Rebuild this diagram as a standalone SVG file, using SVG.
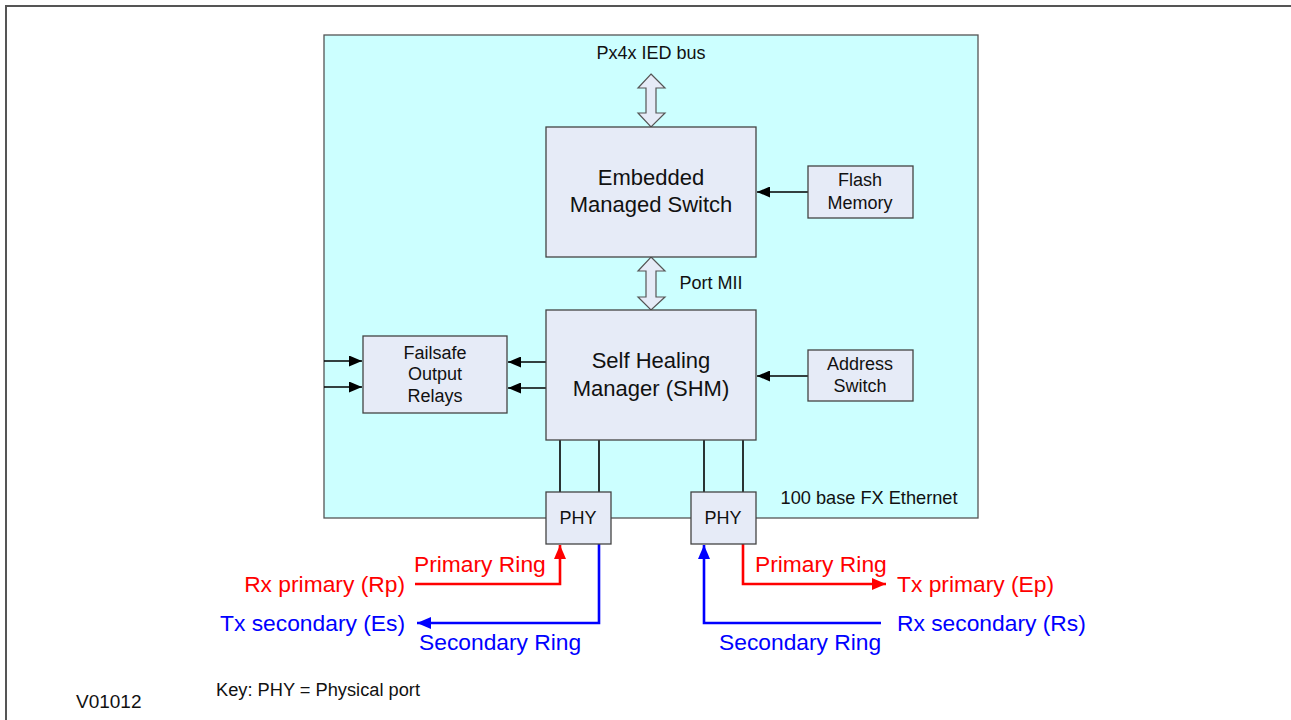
<svg xmlns="http://www.w3.org/2000/svg" width="1291" height="720" viewBox="0 0 1291 720">
<defs>
<style>
.box{fill:#e6ebf7;stroke:#444;stroke-width:1.3}
.t{font-family:"Liberation Sans",Arial,sans-serif;fill:#111;text-anchor:middle}
.k{stroke:#000;stroke-width:1.6;fill:none}
.r{stroke:#ff0000;stroke-width:2.6;fill:none}
.b{stroke:#0000ff;stroke-width:2.6;fill:none}
.red{font-family:"Liberation Sans",Arial,sans-serif;fill:#ff0000;font-size:22.8px}
.blue{font-family:"Liberation Sans",Arial,sans-serif;fill:#0000ff;font-size:22.8px}
.dbl{fill:#e6ebf7;stroke:#555;stroke-width:1.2}
</style>
<marker id="ak" viewBox="0 0 13 11" refX="13" refY="5.5" markerWidth="13" markerHeight="11" markerUnits="userSpaceOnUse" orient="auto"><path d="M0,0 L13,5.5 L0,11 Z" fill="#000"/></marker>
<marker id="ar" viewBox="0 0 14 12" refX="14" refY="6" markerWidth="14" markerHeight="12" markerUnits="userSpaceOnUse" orient="auto"><path d="M0,0 L14,6 L0,12 Z" fill="#ff0000"/></marker>
<marker id="ab" viewBox="0 0 14 12" refX="14" refY="6" markerWidth="14" markerHeight="12" markerUnits="userSpaceOnUse" orient="auto"><path d="M0,0 L14,6 L0,12 Z" fill="#0000ff"/></marker>
</defs>
<rect x="6" y="6" width="1300" height="730" fill="#fff" stroke="#555" stroke-width="2"/>
<g id="module">
<rect x="324" y="35" width="654" height="483" fill="#ccffff" stroke="#555" stroke-width="1.3"/>
<text class="t" x="651" y="59" font-size="18">Px4x IED bus</text>
<text class="t" x="869" y="504" font-size="18.2">100 base FX Ethernet</text>
</g>
<g id="connectors">
<path class="dbl" d="M651,74 L665,88 L656,88 L656,113 L665,113 L651,127 L638,113 L646,113 L646,88 L638,88 Z"/>
<path class="dbl" d="M651,257 L665,271 L656,271 L656,297 L665,297 L651,310 L638,297 L646,297 L646,271 L638,271 Z"/>
<text class="t" x="711" y="289" font-size="18">Port MII</text>
<line class="k" x1="808" y1="192" x2="757" y2="192" marker-end="url(#ak)"/>
<line class="k" x1="808" y1="376" x2="757" y2="376" marker-end="url(#ak)"/>
<line class="k" x1="546" y1="362" x2="508" y2="362" marker-end="url(#ak)"/>
<line class="k" x1="546" y1="388" x2="508" y2="388" marker-end="url(#ak)"/>
<line class="k" x1="324" y1="361" x2="362" y2="361" marker-end="url(#ak)"/>
<line class="k" x1="324" y1="387" x2="362" y2="387" marker-end="url(#ak)"/>
<line class="k" x1="560" y1="440" x2="560" y2="492"/>
<line class="k" x1="599" y1="440" x2="599" y2="492"/>
<line class="k" x1="704" y1="440" x2="704" y2="492"/>
<line class="k" x1="743" y1="440" x2="743" y2="492"/>
<polyline class="r" points="415,584 560,584 560,545" marker-end="url(#ar)"/>
<polyline class="b" points="599,544 599,623 417,623" marker-end="url(#ab)"/>
<polyline class="b" points="881,623 704,623 704,545" marker-end="url(#ab)"/>
<polyline class="r" points="743,544 743,584 886,584" marker-end="url(#ar)"/>
</g>
<g id="switch">
<rect class="box" x="546" y="127" width="210" height="130"/>
<text class="t" x="651" y="185" font-size="22">Embedded</text>
<text class="t" x="651" y="212" font-size="22">Managed Switch</text>
</g>
<g id="flash">
<rect class="box" x="808" y="166" width="105" height="52"/>
<text class="t" x="860" y="186" font-size="18">Flash</text>
<text class="t" x="860" y="209" font-size="18">Memory</text>
</g>
<g id="shm">
<rect class="box" x="546" y="310" width="210" height="130"/>
<text class="t" x="651" y="368" font-size="22">Self Healing</text>
<text class="t" x="651" y="396" font-size="22">Manager (SHM)</text>
</g>
<g id="address">
<rect class="box" x="808" y="350" width="105" height="51"/>
<text class="t" x="860" y="370" font-size="18">Address</text>
<text class="t" x="860" y="392" font-size="18">Switch</text>
</g>
<g id="failsafe">
<rect class="box" x="363" y="336" width="144" height="77"/>
<text class="t" x="435" y="359" font-size="18">Failsafe</text>
<text class="t" x="435" y="380" font-size="18">Output</text>
<text class="t" x="435" y="402" font-size="18">Relays</text>
</g>
<g id="phy1">
<rect class="box" x="546" y="492" width="65" height="52"/>
<text class="t" x="578" y="524" font-size="18">PHY</text>
</g>
<g id="phy2">
<rect class="box" x="691" y="492" width="65" height="52"/>
<text class="t" x="723" y="524" font-size="18">PHY</text>
</g>
<g id="labels">
<text class="red" x="405" y="592" text-anchor="end">Rx primary (Rp)</text>
<text class="red" x="414" y="572">Primary Ring</text>
<text class="blue" x="405" y="631" text-anchor="end">Tx secondary (Es)</text>
<text class="blue" x="419" y="650">Secondary Ring</text>
<text class="red" x="897" y="592">Tx primary (Ep)</text>
<text class="red" x="755" y="572">Primary Ring</text>
<text class="blue" x="897" y="631">Rx secondary (Rs)</text>
<text class="blue" x="719" y="650">Secondary Ring</text>
<text x="216" y="696" font-family="Liberation Sans,Arial,sans-serif" font-size="18" fill="#111" textLength="204" lengthAdjust="spacingAndGlyphs">Key: PHY = Physical port</text>
<text x="76" y="708" font-family="Liberation Sans,Arial,sans-serif" font-size="19" fill="#111">V01012</text>
</g>
</svg>
